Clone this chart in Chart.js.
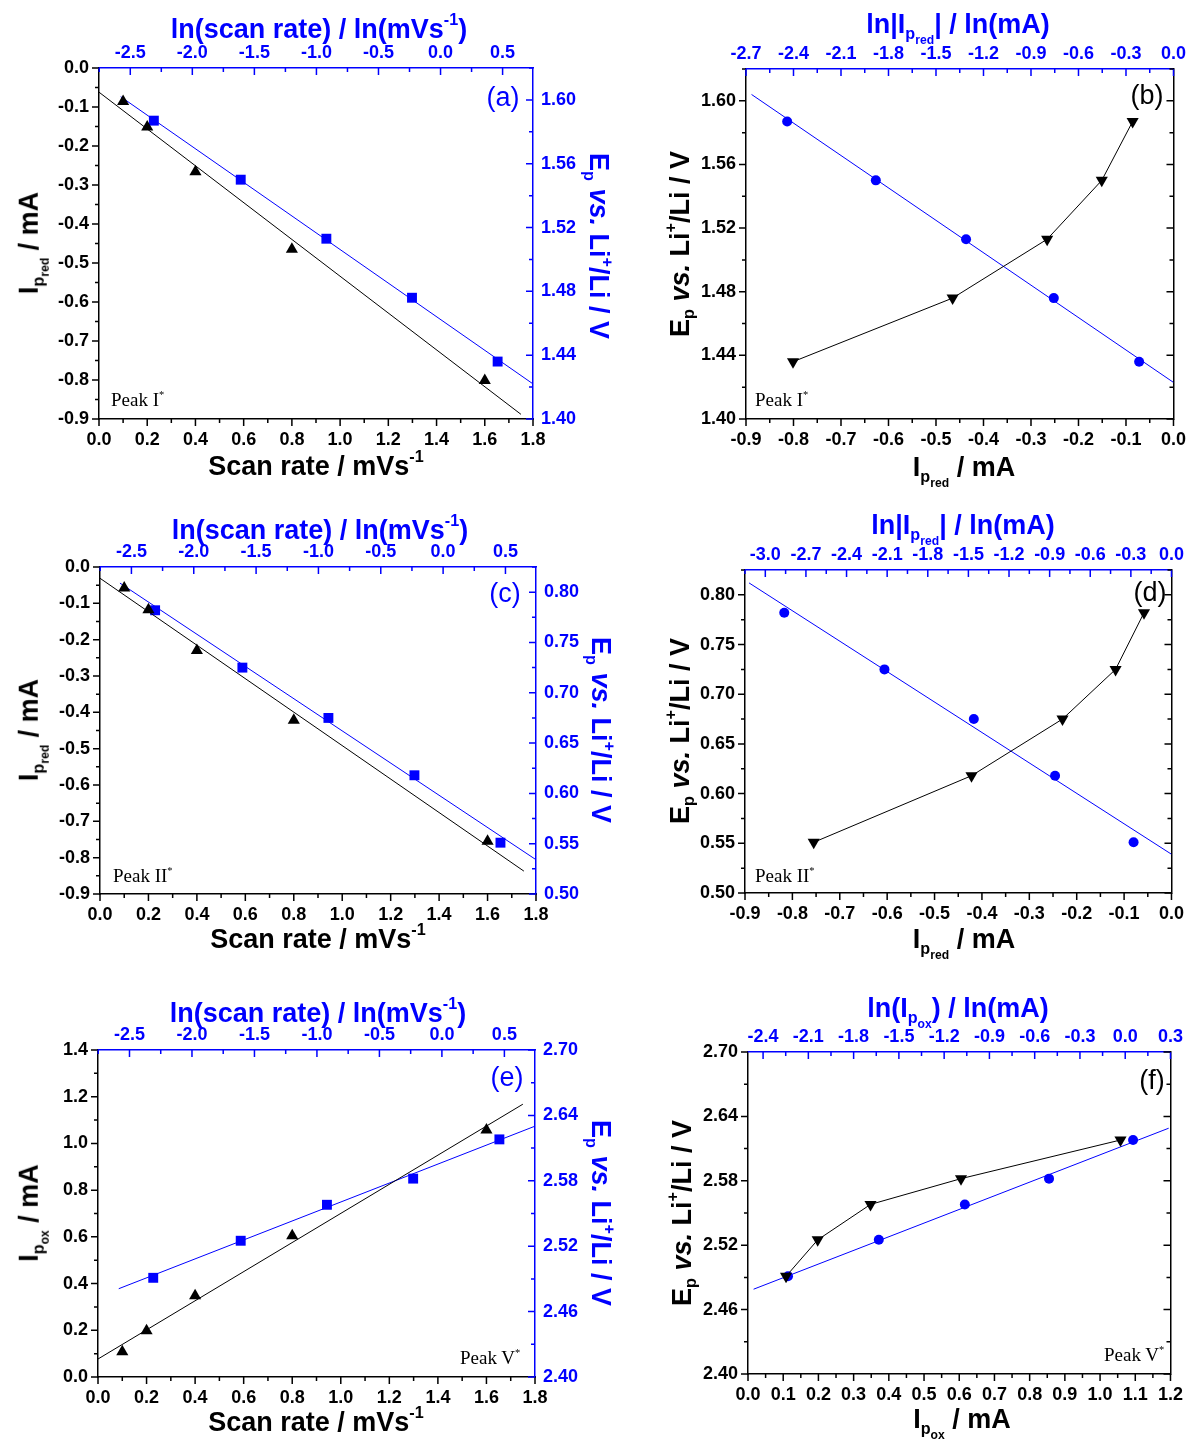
<!DOCTYPE html>
<html>
<head>
<meta charset="utf-8">
<script src="https://cdn.jsdelivr.net/npm/chart.js@4.4.0/dist/chart.umd.min.js"></script>
<style>
  html, body { margin: 0; padding: 0; background: #fff; overflow: hidden; }
  #page { position: relative; width: 1196px; height: 1441px; }
  canvas { position: absolute; }
  .t { position: absolute; white-space: nowrap; line-height: 1; font-family: "Liberation Sans", Arial, sans-serif; font-weight: bold; font-size: 27px; color: #000; }
  .t.b { color: #0000ff; }
  .t sub, .t sup { font-size: 0.6em; line-height: 0; }
  .t sub { vertical-align: -0.35em; }
  .t sup { vertical-align: 0.75em; }
  .t sub sub { font-size: 0.75em; vertical-align: -0.4em; }
  .lab { position: absolute; line-height: 1; font-family: "Liberation Sans", Arial, sans-serif; font-size: 27px; transform: translate(-50%, -50%); }
  .peak { position: absolute; line-height: 1; font-family: "Liberation Serif", "Times New Roman", serif; font-size: 19px; transform: translate(0, -50%); white-space: nowrap; }
  .peak sup { font-size: 0.55em; vertical-align: 0.7em; line-height: 0; }
</style>
</head>
<body>
<div id="page">
  <!-- panel (a) -->
  <div class="t b" style="left:319px;top:29px;transform:translate(-50%,-50%)">ln(scan rate) / ln(mVs<sup>-1</sup>)</div>
  <div class="t" style="left:316px;top:466px;transform:translate(-50%,-50%)">Scan rate / mVs<sup>-1</sup></div>
  <div class="t" style="left:30px;top:243px;transform:translate(-50%,-50%) rotate(-90deg)">I<sub>p<sub>red</sub></sub> / mA</div>
  <div class="t b" style="left:598px;top:246px;transform:translate(-50%,-50%) rotate(90deg)">E<sub>p</sub> <i>vs.</i> Li<sup>+</sup>/Li / V</div>
  <div class="lab" style="left:503px;top:97px;color:#0000ff">(a)</div>
  <div class="peak" style="left:111px;top:399px">Peak I<sup>*</sup></div>

  <!-- panel (b) -->
  <div class="t b" style="left:958px;top:25px;transform:translate(-50%,-50%)">ln|I<sub>p<sub>red</sub></sub>| / ln(mA)</div>
  <div class="t" style="left:964px;top:468px;transform:translate(-50%,-50%)">I<sub>p<sub>red</sub></sub> / mA</div>
  <div class="t" style="left:680px;top:244px;transform:translate(-50%,-50%) rotate(-90deg)">E<sub>p</sub> <i>vs.</i> Li<sup>+</sup>/Li / V</div>
  <div class="lab" style="left:1147px;top:95px;color:#000">(b)</div>
  <div class="peak" style="left:755px;top:399px">Peak I<sup>*</sup></div>

  <!-- panel (c) -->
  <div class="t b" style="left:320px;top:530px;transform:translate(-50%,-50%)">ln(scan rate) / ln(mVs<sup>-1</sup>)</div>
  <div class="t" style="left:318px;top:939px;transform:translate(-50%,-50%)">Scan rate / mVs<sup>-1</sup></div>
  <div class="t" style="left:30px;top:730px;transform:translate(-50%,-50%) rotate(-90deg)">I<sub>p<sub>red</sub></sub> / mA</div>
  <div class="t b" style="left:600px;top:730px;transform:translate(-50%,-50%) rotate(90deg)">E<sub>p</sub> <i>vs.</i> Li<sup>+</sup>/Li / V</div>
  <div class="lab" style="left:505px;top:593px;color:#0000ff">(c)</div>
  <div class="peak" style="left:113px;top:875px">Peak II<sup>*</sup></div>

  <!-- panel (d) -->
  <div class="t b" style="left:963px;top:526px;transform:translate(-50%,-50%)">ln|I<sub>p<sub>red</sub></sub>| / ln(mA)</div>
  <div class="t" style="left:964px;top:940px;transform:translate(-50%,-50%)">I<sub>p<sub>red</sub></sub> / mA</div>
  <div class="t" style="left:680px;top:731px;transform:translate(-50%,-50%) rotate(-90deg)">E<sub>p</sub> <i>vs.</i> Li<sup>+</sup>/Li / V</div>
  <div class="lab" style="left:1150px;top:592px;color:#000">(d)</div>
  <div class="peak" style="left:755px;top:875px">Peak II<sup>*</sup></div>

  <!-- panel (e) -->
  <div class="t b" style="left:318px;top:1013px;transform:translate(-50%,-50%)">ln(scan rate) / ln(mVs<sup>-1</sup>)</div>
  <div class="t" style="left:316px;top:1422px;transform:translate(-50%,-50%)">Scan rate / mVs<sup>-1</sup></div>
  <div class="t" style="left:30px;top:1213px;transform:translate(-50%,-50%) rotate(-90deg)">I<sub>p<sub>ox</sub></sub> / mA</div>
  <div class="t b" style="left:600px;top:1213px;transform:translate(-50%,-50%) rotate(90deg)">E<sub>p</sub> <i>vs.</i> Li<sup>+</sup>/Li / V</div>
  <div class="lab" style="left:507px;top:1077px;color:#0000ff">(e)</div>
  <div class="peak" style="left:460px;top:1357px">Peak V<sup>*</sup></div>

  <!-- panel (f) -->
  <div class="t b" style="left:958px;top:1009px;transform:translate(-50%,-50%)">ln(I<sub>p<sub>ox</sub></sub>) / ln(mA)</div>
  <div class="t" style="left:962px;top:1420px;transform:translate(-50%,-50%)">I<sub>p<sub>ox</sub></sub> / mA</div>
  <div class="t" style="left:682px;top:1213px;transform:translate(-50%,-50%) rotate(-90deg)">E<sub>p</sub> <i>vs.</i> Li<sup>+</sup>/Li / V</div>
  <div class="lab" style="left:1152px;top:1080px;color:#000">(f)</div>
  <div class="peak" style="left:1104px;top:1354px">Peak V<sup>*</sup></div>
</div>
<script>
const BLUE = "#0000ff";
const BLACK = "#000000";

// scan rates (mV/s) and their logarithms
const scanRate = [0.1, 0.2, 0.4, 0.8, 1.6];
const lnScanRate = [-2.31, -1.61, -0.92, -0.23, 0.46];

// Peak I*
const ipRedI = [-0.086, -0.151, -0.266, -0.465, -0.801];
const lnIpRedI = [-2.44, -1.88, -1.31, -0.756, -0.217];
const epI = [1.587, 1.550, 1.513, 1.476, 1.436];
const fitIpI = [[0, -0.062], [1.75, -0.888]];
const fitEpScanI = [[-2.577, 1.602], [0.745, 1.422]];
const fitEpIpI = [[-2.665, 1.604], [0, 1.423]];

// Peak II*
const ipRedII = [-0.058, -0.118, -0.230, -0.422, -0.755];
const lnIpRedII = [-2.86, -2.12, -1.46, -0.86, -0.28];
const epII = [0.782, 0.725, 0.675, 0.618, 0.551];
const fitIpII = [[0, -0.031], [1.75, -0.837]];
const fitEpScanII = [[-2.592, 0.809], [0.746, 0.534]];
const fitEpIpII = [[-3.12, 0.812], [0, 0.539]];

// Peak V*
const ipOxV = [0.108, 0.198, 0.348, 0.605, 1.058];
const lnIpOxV = [-2.235, -1.633, -1.063, -0.505, 0.052];
const epV = [2.491, 2.525, 2.558, 2.582, 2.618];
const fitIpV = [[0, 0.077], [1.75, 1.168]];
const fitEpScanV = [[-2.586, 2.481], [0.742, 2.630]];
const fitEpIpV = [[-2.463, 2.479], [0.288, 2.629]];

// tick labels
const ticksScan = [0, 0.2, 0.4, 0.6, 0.8, 1.0, 1.2, 1.4, 1.6, 1.8];
const ticksLnScan = [-2.5, -2.0, -1.5, -1.0, -0.5, 0, 0.5];
const ticksIpRed = [0, -0.1, -0.2, -0.3, -0.4, -0.5, -0.6, -0.7, -0.8, -0.9];
const ticksIpRedAbs = [-0.9, -0.8, -0.7, -0.6, -0.5, -0.4, -0.3, -0.2, -0.1, 0];
const ticksEpI = [1.40, 1.44, 1.48, 1.52, 1.56, 1.60];
const ticksLnIpI = [-2.7, -2.4, -2.1, -1.8, -1.5, -1.2, -0.9, -0.6, -0.3, 0];
const ticksEpII = [0.50, 0.55, 0.60, 0.65, 0.70, 0.75, 0.80];
const ticksLnIpII = [-3.0, -2.7, -2.4, -2.1, -1.8, -1.5, -1.2, -0.9, -0.6, -0.3, 0];
const ticksIpOx = [0, 0.2, 0.4, 0.6, 0.8, 1.0, 1.2, 1.4];
const ticksEpV = [2.40, 2.46, 2.52, 2.58, 2.64, 2.70];
const ticksIpOxF = [0, 0.1, 0.2, 0.3, 0.4, 0.5, 0.6, 0.7, 0.8, 0.9, 1.0, 1.1, 1.2];
const ticksLnIpOx = [-2.4, -2.1, -1.8, -1.5, -1.2, -0.9, -0.6, -0.3, 0, 0.3];

const tickFont = { family: "'Liberation Sans', Arial, sans-serif", size: 18, weight: "bold" };

function axis(o) {
  return {
    type: "linear",
    position: o.pos,
    min: o.min,
    max: o.max,
    grid: { display: false, drawTicks: false },
    border: { display: true, color: o.color, width: 1.5 },
    ticks: {
      display: o.labels !== false,
      color: o.color,
      autoSkip: false,
      maxRotation: 0,
      minRotation: 0,
      padding: o.pad,
      font: tickFont,
      callback: v => Number(v).toFixed(o.dec)
    },
    afterBuildTicks: s => { s.ticks = o.ticks.map(v => ({ value: v })); },
    afterFit: s => {
      if (s.isHorizontal()) s.height = o.size;
      else s.width = o.size;
    }
  };
}

// major + minor tick marks, inward or outward
function tickMarks(marks) {
  return {
    id: "tickMarks",
    afterDraw(chart) {
      const ctx = chart.ctx;
      const a = chart.chartArea;
      marks.forEach(m => {
        const s = chart.scales[m.id];
        const sign = m.inward ? 1 : -1;
        const list = s.ticks.map(t => [t.value, 7]);
        const start = Math.ceil(s.min / m.minor - 1e-6);
        for (let k = start; k * m.minor <= s.max + 1e-9; k++) {
          const v = k * m.minor;
          if (!s.ticks.some(t => Math.abs(t.value - v) < m.minor / 10)) list.push([v, 4]);
        }
        ctx.save();
        ctx.strokeStyle = m.color;
        ctx.lineWidth = 1.5;
        ctx.beginPath();
        list.forEach(([v, len]) => {
          const p = s.getPixelForValue(v);
          if (s.position === "left") { ctx.moveTo(a.left, p); ctx.lineTo(a.left + sign * len, p); }
          if (s.position === "right") { ctx.moveTo(a.right, p); ctx.lineTo(a.right - sign * len, p); }
          if (s.position === "top") { ctx.moveTo(p, a.top); ctx.lineTo(p, a.top + sign * len); }
          if (s.position === "bottom") { ctx.moveTo(p, a.bottom); ctx.lineTo(p, a.bottom - sign * len); }
        });
        ctx.stroke();
        ctx.restore();
      });
    }
  };
}

function pts(xs, ys) {
  return xs.map((x, i) => ({ x, y: ys[i] }));
}

function markers(data, xId, yId, color, style, radius, rotation, joined) {
  return {
    data,
    xAxisID: xId,
    yAxisID: yId,
    pointStyle: style,
    pointRadius: radius,
    pointRotation: rotation || 0,
    pointBackgroundColor: color,
    pointBorderColor: color,
    pointBorderWidth: 0,
    showLine: !!joined,
    borderColor: color,
    borderWidth: 1
  };
}

function fitLine(pair, xId, yId, color) {
  return {
    data: pair.map(p => ({ x: p[0], y: p[1] })),
    xAxisID: xId,
    yAxisID: yId,
    showLine: true,
    pointRadius: 0,
    borderColor: color,
    borderWidth: 1
  };
}

function panel(box, scales, marks, datasets) {
  const padL = 80, padT = 40, padB = 40, padR = box.padR;
  const canvas = document.createElement("canvas");
  canvas.width = box.R - box.L + padL + padR;
  canvas.height = box.B - box.T + padT + padB;
  canvas.style.left = (box.L - padL) + "px";
  canvas.style.top = (box.T - padT) + "px";
  document.getElementById("page").insertBefore(canvas, document.getElementById("page").firstChild);
  new Chart(canvas, {
    type: "scatter",
    data: { datasets },
    options: {
      responsive: false,
      animation: false,
      layout: { padding: 0 },
      plugins: { legend: { display: false }, tooltip: { enabled: false } },
      scales
    },
    plugins: [tickMarks(marks)]
  });
}

// left-hand panels: scan rate (bottom/left) and ln(scan rate) (top/right, blue)
function scanPanel(box, yMin, yMax, yTicks, epMin, epMax, epTicks, epDec, epMinor, yMinor, ip, ep, fitIp, fitEp) {
  panel(box, {
    x: axis({ pos: "bottom", min: 0, max: 1.8, ticks: ticksScan, dec: 1, color: BLACK, size: 40, pad: 10 }),
    y: axis({ pos: "left", min: yMin, max: yMax, ticks: yTicks, dec: 1, color: BLACK, size: 80, pad: 10 }),
    x2: axis({ pos: "top", min: -2.752, max: 0.745, ticks: ticksLnScan, dec: 1, color: BLUE, size: 40, pad: 4 }),
    y2: axis({ pos: "right", min: epMin, max: epMax, ticks: epTicks, dec: epDec, color: BLUE, size: 70, pad: 8 })
  }, [
    { id: "x", minor: 0.1, inward: false, color: BLACK },
    { id: "y", minor: yMinor, inward: false, color: BLACK },
    { id: "x2", minor: 0.25, inward: true, color: BLUE },
    { id: "y2", minor: epMinor, inward: true, color: BLUE }
  ], [
    markers(pts(scanRate, ip), "x", "y", BLACK, "triangle", 7),
    fitLine(fitIp, "x", "y", BLACK),
    markers(pts(lnScanRate, ep), "x2", "y2", BLUE, "rect", 7),
    fitLine(fitEp, "x2", "y2", BLUE)
  ]);
}

// right-hand panels: Ep against Ip (bottom) and ln|Ip| (top, blue)
function ipPanel(box, xMin, xMax, xTicks, xMinor, lnMin, lnMax, lnTicks, epMin, epMax, epTicks, epDec, epMinor, ip, lnIp, ep, fitEp) {
  panel(box, {
    x: axis({ pos: "bottom", min: xMin, max: xMax, ticks: xTicks, dec: 1, color: BLACK, size: 40, pad: 10 }),
    y: axis({ pos: "left", min: epMin, max: epMax, ticks: epTicks, dec: epDec, color: BLACK, size: 80, pad: 10 }),
    x2: axis({ pos: "top", min: lnMin, max: lnMax, ticks: lnTicks, dec: 1, color: BLUE, size: 40, pad: 4 }),
    y2: axis({ pos: "right", min: epMin, max: epMax, ticks: epTicks, dec: epDec, color: BLACK, size: 16, pad: 4, labels: false })
  }, [
    { id: "x", minor: xMinor, inward: false, color: BLACK },
    { id: "y", minor: epMinor, inward: false, color: BLACK },
    { id: "x2", minor: 0.15, inward: true, color: BLUE },
    { id: "y2", minor: epMinor, inward: true, color: BLACK }
  ], [
    markers(pts(ip, ep), "x", "y", BLACK, "triangle", 7, 180, true),
    markers(pts(lnIp, ep), "x2", "y", BLUE, "circle", 5),
    fitLine(fitEp, "x2", "y", BLUE)
  ]);
}

scanPanel({ L: 99, R: 533, T: 68, B: 419, padR: 70 }, -0.9, 0, ticksIpRed, 1.40, 1.62, ticksEpI, 2, 0.02, 0.05,
  ipRedI, epI, fitIpI, fitEpScanI);
ipPanel({ L: 746, R: 1180, T: 69, B: 419, padR: 16 }, -0.9, 0, ticksIpRedAbs, 0.05, -2.7, 0, ticksLnIpI,
  1.40, 1.62, ticksEpI, 2, 0.02, ipRedI, lnIpRedI, epI, fitEpIpI);

scanPanel({ L: 100, R: 536, T: 567, B: 894, padR: 70 }, -0.9, 0, ticksIpRed, 0.50, 0.825, ticksEpII, 2, 0.025, 0.05,
  ipRedII, epII, fitIpII, fitEpScanII);
ipPanel({ L: 745, R: 1178, T: 570, B: 893, padR: 16 }, -0.9, 0, ticksIpRedAbs, 0.05, -3.15, 0, ticksLnIpII,
  0.50, 0.825, ticksEpII, 2, 0.025, ipRedII, lnIpRedII, epII, fitEpIpII);

scanPanel({ L: 98, R: 535, T: 1050, B: 1377, padR: 70 }, 0, 1.4, ticksIpOx, 2.40, 2.70, ticksEpV, 2, 0.03, 0.1,
  ipOxV, epV, fitIpV, fitEpScanV);
ipPanel({ L: 748, R: 1177, T: 1052, B: 1374, padR: 16 }, 0, 1.2, ticksIpOxF, 0.05, -2.5, 0.3, ticksLnIpOx,
  2.40, 2.70, ticksEpV, 2, 0.03, ipOxV, lnIpOxV, epV, fitEpIpV);
</script>
</body>
</html>
